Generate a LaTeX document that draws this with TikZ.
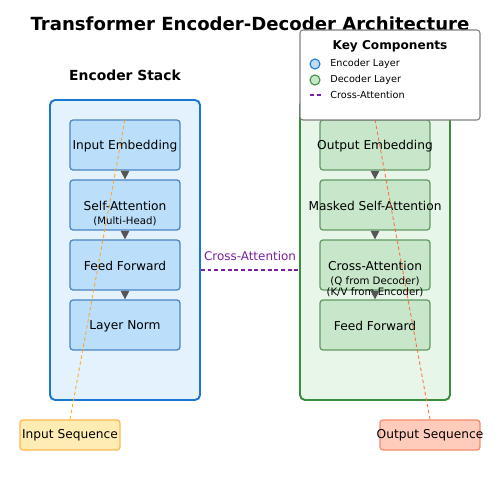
\documentclass[tikz,border=0pt]{standalone}
\usepackage{fontspec}
\setmainfont{DejaVu Sans}
\usetikzlibrary{arrows.meta}
\definecolor{encfill}{HTML}{E3F2FD}
\definecolor{encline}{HTML}{1976D2}
\definecolor{decfill}{HTML}{E8F5E9}
\definecolor{decline}{HTML}{388E3C}
\definecolor{enclayer}{HTML}{BBDEFB}
\definecolor{enclayerline}{HTML}{4A82C4}
\definecolor{declayer}{HTML}{C8E6C9}
\definecolor{declayerline}{HTML}{5E9A62}
\definecolor{infill}{HTML}{FFECB3}
\definecolor{inline}{HTML}{FFB74D}
\definecolor{outfill}{HTML}{FFCCBC}
\definecolor{outline}{HTML}{F08A6B}
\definecolor{inflow}{HTML}{FFA726}
\definecolor{outflow}{HTML}{FF7043}
\definecolor{crosscol}{HTML}{7B1FA2}
\definecolor{arrowcol}{HTML}{555555}

\begin{document}
\begin{tikzpicture}[x=0.02cm,y=-0.02cm]
    \tikzstyle{stack}=[draw,line width=1.1pt,rounded corners=0.1cm,minimum width=3cm,minimum height=6cm,inner sep=0pt]
    \tikzstyle{layer}=[draw,line width=0.7pt,rounded corners=0.06cm,minimum width=2.2cm,minimum height=1cm,inner sep=0pt]
    \tikzstyle{seqbox}=[draw,line width=0.7pt,rounded corners=0.06cm,minimum width=2cm,minimum height=0.6cm,inner sep=0pt]
    \tikzstyle{lbl}=[inner sep=0pt,font=\fontsize{6.95}{8}\selectfont]
    \tikzstyle{small}=[inner sep=0pt,font=\fontsize{5.8}{6.5}\selectfont]
    \tikzstyle{legtext}=[inner sep=0pt,anchor=west,font=\fontsize{5.5}{6}\selectfont]
    \tikzstyle{flow}=[-{Triangle[width=4.8pt,length=4.8pt]},arrowcol,line width=0.6pt]
    \tikzstyle{xattn}=[crosscol,line width=0.9pt,dash pattern=on 2.2pt off 1.6pt]
    \useasboundingbox (0,0) rectangle (500,500);

    \node[font=\bfseries\fontsize{10.3}{12}\selectfont] (title) at (250,24) {Transformer Encoder-Decoder Architecture};
    \node[font=\bfseries\fontsize{7.9}{9}\selectfont] (enclabel) at (125,75) {Encoder Stack};

    \node[stack,draw=encline,fill=encfill] (encoder) at (125,250) {};
    \node[stack,draw=decline,fill=decfill] (decoder) at (375,250) {};

    \node[layer,draw=enclayerline,fill=enclayer] (inemb) at (125,145) {};
    \node[layer,draw=enclayerline,fill=enclayer] (selfatt) at (125,205) {};
    \node[layer,draw=enclayerline,fill=enclayer] (encff) at (125,265) {};
    \node[layer,draw=enclayerline,fill=enclayer] (norm) at (125,325) {};
    \node[lbl] at (125,146) {Input Embedding};
    \node[lbl] at (125,206) {Self-Attention};
    \node[small] at (125,221) {(Multi-Head)};
    \node[lbl] at (125,266) {Feed Forward};
    \node[lbl] at (125,326) {Layer Norm};

    \node[layer,draw=declayerline,fill=declayer] (outemb) at (375,145) {};
    \node[layer,draw=declayerline,fill=declayer] (masked) at (375,205) {};
    \node[layer,draw=declayerline,fill=declayer] (crossatt) at (375,265) {};
    \node[layer,draw=declayerline,fill=declayer] (decff) at (375,325) {};
    \node[lbl] at (375,146) {Output Embedding};
    \node[lbl] at (375,206) {Masked Self-Attention};
    \node[lbl] at (375,266) {Cross-Attention};
    \node[small] at (375,281) {(Q from Decoder)};
    \node[small] at (375,292) {(K/V from Encoder)};
    \node[lbl] at (375,326) {Feed Forward};

    \draw[flow] (inemb.south) -- (selfatt.north);
    \draw[flow] (selfatt.south) -- (encff.north);
    \draw[flow] (encff.south) -- (norm.north);
    \draw[flow] (outemb.south) -- (masked.north);
    \draw[flow] (masked.south) -- (crossatt.north);
    \draw[flow] (crossatt.south) -- (decff.north);

    \node[seqbox,draw=inline,fill=infill] (inseq) at (70,435) {};
    \node[seqbox,draw=outline,fill=outfill] (outseq) at (430,435) {};
    \node[lbl] at (70,435) {Input Sequence};
    \node[lbl] at (430,435) {Output Sequence};
    \draw[inflow,line width=0.5pt,dash pattern=on 2pt off 1.5pt] (inseq.north) -- (inemb.north);
    \draw[outflow,line width=0.5pt,dash pattern=on 2pt off 1.5pt] (outseq.north) -- (outemb.north);

    \draw[xattn] (encoder.east |- 0,270) -- (decoder.west |- 0,270);
    \node[text=crosscol,inner sep=0pt,font=\fontsize{6.8}{8}\selectfont] (crosslabel) at (250,256) {Cross-Attention};

    \node[draw=gray,fill=white,line width=0.6pt,rounded corners=0.06cm,minimum width=3.6cm,minimum height=1.8cm,inner sep=0pt] (legend) at (390,75) {};
    \node[font=\bfseries\fontsize{6.9}{8}\selectfont] (legtitle) at (390,46) {Key Components};
    \node[circle,draw=encline,fill=enclayer,line width=0.6pt,minimum size=0.2cm,inner sep=0pt] (legenc) at (315,64) {};
    \node[circle,draw=decline,fill=declayer,line width=0.6pt,minimum size=0.2cm,inner sep=0pt] (legdec) at (315,80) {};
    \coordinate (legx1) at (310,95);
    \coordinate (legx2) at (321,95);
    \draw[xattn] (legx1) -- (legx2);
    \node[legtext] at (330,64) {Encoder Layer};
    \node[legtext] at (330,80) {Decoder Layer};
    \node[legtext] at (330,95) {Cross-Attention};
\end{tikzpicture}
\end{document}
